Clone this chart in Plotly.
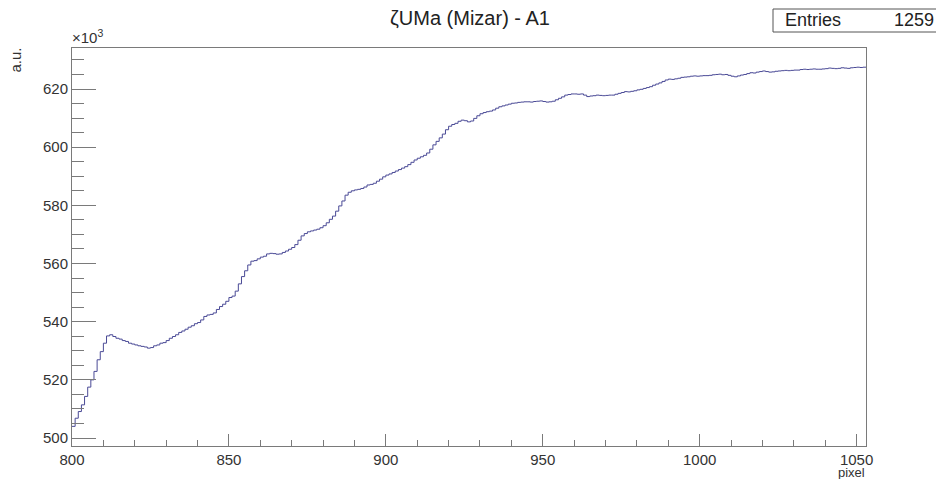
import numpy as np
import plotly.graph_objects as go

# Histogram: first bin low edge, bin width, bin contents (units of 10^3)
first_edge = 800
bin_width = 1
counts = [
    504.0, 506.8, 509.1, 511.4, 514.3, 517.5, 520.0, 522.9, 526.9, 529.7,
    532.6, 535.1, 535.5, 534.9, 534.3, 534.0, 533.5, 533.2, 532.6, 532.3,
    532.0, 531.7, 531.5, 531.3, 530.9, 531.1, 531.7, 532.0, 532.6, 532.8,
    533.5, 534.3, 534.9, 535.5, 536.3, 536.8, 537.4, 538.1, 538.6, 539.3,
    539.7, 540.6, 541.8, 542.3, 542.5, 543.0, 544.2, 545.2, 546.0, 547.0,
    548.3, 548.8, 550.5, 553.0, 555.5, 557.5, 559.5, 560.8, 561.0, 561.6,
    562.2, 562.5, 563.3, 563.5, 563.4, 563.2, 563.3, 563.8, 564.3, 564.9,
    565.5, 566.5, 568.0, 569.5, 570.3, 570.9, 571.2, 571.5, 571.8, 572.3,
    573.0, 574.0, 575.2, 576.3, 578.0, 579.8, 581.5, 583.5, 584.5, 585.0,
    585.3, 585.5, 585.8, 586.3, 587.0, 587.2, 587.6, 588.3, 589.0, 589.8,
    590.4, 590.8, 591.3, 591.8, 592.3, 592.8, 593.3, 594.0, 594.8, 595.6,
    596.2, 596.7, 597.2, 598.0, 599.3, 600.8, 602.0, 603.2, 604.5, 606.0,
    607.2, 607.8, 608.2, 608.9, 609.3, 609.1, 608.7, 609.0, 609.9, 610.8,
    611.5, 611.9, 612.2, 612.4, 612.8, 613.4, 613.9, 614.2, 614.5, 614.8,
    615.1, 615.2, 615.4, 615.5, 615.6, 615.6, 615.5, 615.7, 615.8, 615.9,
    615.7, 615.5, 615.6, 615.8, 616.3, 616.8, 617.3, 617.9, 618.1, 618.3,
    618.3, 618.2, 618.3, 617.9, 617.4, 617.6, 617.7, 617.9, 617.8, 617.7,
    617.8, 617.9, 617.9, 618.2, 618.5, 618.8, 619.1, 619.0, 619.2, 619.4,
    619.7, 619.9, 620.2, 620.5, 620.8, 621.3, 621.7, 622.1, 622.6, 623.1,
    623.4, 623.3, 623.5, 623.7, 624.0, 624.1, 624.2, 624.4, 624.5, 624.4,
    624.5, 624.6, 624.6, 624.7, 624.9, 625.0, 625.1, 624.9, 625.0, 624.7,
    624.4, 624.2, 624.5, 624.8, 625.0, 625.3, 625.6, 625.5, 625.8, 626.0,
    626.2, 626.0, 625.8, 625.9, 626.1, 626.2, 626.3, 626.4, 626.3, 626.4,
    626.5, 626.5, 626.7, 626.8, 626.7, 626.8, 626.9, 626.8, 626.8, 626.9,
    627.0, 627.2, 627.1, 627.0, 627.1, 627.3, 627.2, 627.1, 627.3, 627.4,
    627.5, 627.4, 627.5,
]
title_text = "ζUMa (Mizar) - A1"
entries = 1259
x_title = "pixel"
y_title = "a.u."

edges = first_edge + bin_width * np.arange(len(counts) + 1)
ys = list(counts) + [counts[-1]]

# page body has an 8px margin; figure is shrunk and shifted to compensate
OFF = 8
PAGE_W, PAGE_H = 944, 479
W, H = PAGE_W - OFF, PAGE_H - OFF
# plot frame in page pixels
L, R, T, B = 72, 866, 48, 446
pw, ph = R - L, B - T

def px(x):
    return (x - L) / pw

def py(y):
    return (B - y) / ph

FONT = "Liberation Sans, Arial, sans-serif"
AXC = "#7a7a7a"
TXT = "#333333"

fig = go.Figure()
fig.add_trace(go.Scatter(
    x=edges, y=ys, mode="lines", line=dict(color="#4a4a96", width=1, shape="hv"),
    hoverinfo="skip", showlegend=False,
))

fig.update_layout(
    width=W, height=H,
    margin=dict(l=L - OFF, r=PAGE_W - R, t=T - OFF, b=PAGE_H - B),
    paper_bgcolor="white", plot_bgcolor="white",
    font=dict(family=FONT, color=TXT, size=15),
    showlegend=False,
)
fig.update_xaxes(
    range=[first_edge, edges[-1]], tick0=800, dtick=50,
    ticks="inside", ticklen=12, tickcolor=AXC, tickwidth=1,
    minor=dict(dtick=10, ticks="inside", ticklen=6, tickcolor=AXC),
    showline=True, linecolor=AXC, linewidth=1, mirror=True,
    showgrid=False, zeroline=False, tickfont=dict(size=15, color=TXT),
)
fig.update_yaxes(
    range=[497.25, 634.1], tick0=500, dtick=20,
    ticks="inside", ticklen=24, tickcolor=AXC, tickwidth=1,
    minor=dict(dtick=5, ticks="inside", ticklen=12, tickcolor=AXC),
    showline=True, linecolor=AXC, linewidth=1, mirror=True,
    showgrid=False, zeroline=False, tickfont=dict(size=15, color=TXT),
)

ann = [
    dict(text=title_text, x=px(470), y=py(18), xanchor="center", yanchor="middle",
         font=dict(size=20, color="#222")),
    dict(text="×10<sup>3</sup>", x=px(70), y=py(48), xanchor="left", yanchor="bottom",
         font=dict(size=15, color=TXT)),
    dict(text=y_title, x=px(15), y=py(46), xanchor="center", yanchor="top",
         textangle=-90, font=dict(size=15, color=TXT)),
    dict(text=x_title, x=px(867), y=py(463), xanchor="right", yanchor="top",
         font=dict(size=13, color=TXT)),
    dict(text="Entries", x=px(783), y=py(20.5), xanchor="left", yanchor="middle",
         font=dict(size=18, color="#222")),
    dict(text=str(entries), x=px(936), y=py(20.5), xanchor="right", yanchor="middle",
         font=dict(size=18, color="#222")),
]
for a in ann:
    a.update(xref="paper", yref="paper", showarrow=False)
fig.update_layout(annotations=ann)

fig.add_shape(type="rect", xref="paper", yref="paper",
              x0=px(773), x1=px(960), y0=py(32), y1=py(9),
              line=dict(color="#555", width=1), fillcolor="rgba(0,0,0,0)")

fig.write_html("out.html")
